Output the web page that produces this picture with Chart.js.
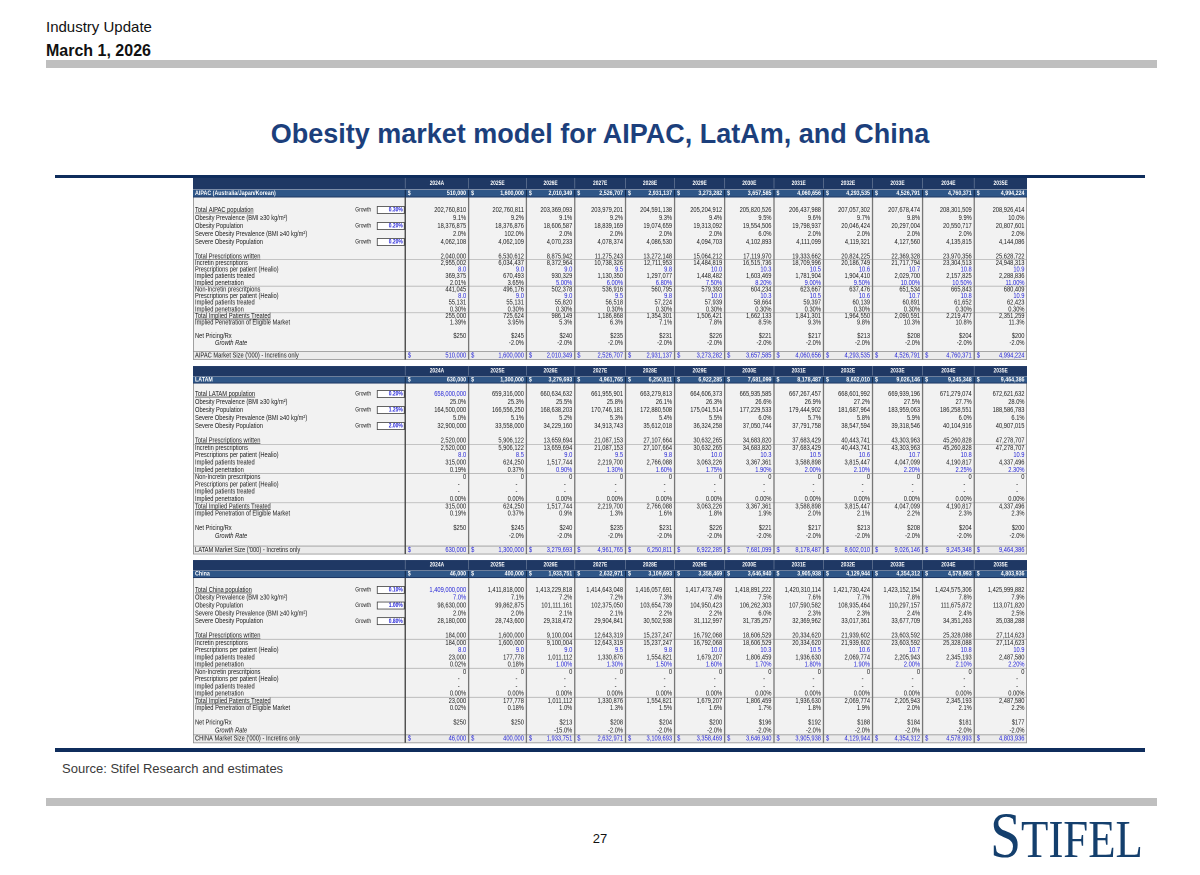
<!DOCTYPE html>
<html>
<head>
<meta charset="utf-8">
<title>Obesity market model for AIPAC, LatAm, and China</title>
<script src="https://cdn.jsdelivr.net/npm/chart.js@4.4.1/dist/chart.umd.min.js"></script>
<style>
  body { margin: 0; background: #fff; font-family: Arial, "Liberation Sans", sans-serif; }
  #page { position: relative; width: 1200px; height: 875px; overflow: hidden; background: #fff; }
  .abs { position: absolute; white-space: nowrap; }
  .bar { position: absolute; background: #bfbfbf; }
  .rule { position: absolute; background: #0f2d5c; }
  #tableBox { position: absolute; left: 193px; top: 178px; width: 834px; height: 567px; }
  #tableBox canvas { display: block; }
  #logo { left: 990px; top: 803px; font-family: "Liberation Serif", "DejaVu Serif", serif; color: #143f6d;
          font-size: 65px; line-height: 65px; transform: scaleX(0.86); transform-origin: left top; }
  #logo span { font-size: 52px; }
</style>
</head>
<body>
<div id="page">
  <div class="abs" style="left:46px;top:19px;font-size:15px;line-height:15px;color:#111">Industry Update</div>
  <div class="abs" style="left:46px;top:43px;font-size:16px;line-height:16px;font-weight:bold;color:#111">March 1, 2026</div>
  <div class="bar" style="left:46px;top:60px;width:1111px;height:8px"></div>

  <div class="abs" style="left:0;width:1200px;top:119px;text-align:center;font-size:27px;line-height:30px;font-weight:bold;color:#1c3f7c">Obesity market model for AIPAC, LatAm, and China</div>

  <div class="rule" style="left:55px;top:175px;width:1090px;height:3px"></div>
  <div id="tableBox"><canvas id="modelTable" width="834" height="567"></canvas></div>
  <div class="rule" style="left:55px;top:748px;width:1090px;height:4px"></div>

  <div class="abs" style="left:62px;top:762px;font-size:13px;line-height:13px;color:#3a3a3a">Source: Stifel Research and estimates</div>
  <div class="bar" style="left:46px;top:798px;width:1111px;height:8px"></div>
  <div class="abs" style="left:0;width:1200px;top:832px;text-align:center;font-size:13px;line-height:13px;color:#111">27</div>
  <div class="abs" id="logo">S<span>TIFEL</span></div>
</div>

<script>
// COLUMNS
const years = ["2024A", "2025E", "2026E", "2027E", "2028E", "2029E", "2030E", "2031E", "2032E", "2033E", "2034E", "2035E"];

// AIPAC
const aipacMarket = [510000, 1600000, 2010349, 2526707, 2931137, 3273282, 3657585, 4060656, 4293535, 4526791, 4760371, 4994224];
const aipacGrowthInputs = [0.30, 0.20, 0.20];
const aipacPopulation = [202760810, 202760811, 203369093, 203979201, 204591138, 205204912, 205820526, 206437988, 207057302, 207678474, 208301509, 208926414];
const aipacObesityPrev = [9.1, 9.2, 9.1, 9.2, 9.3, 9.4, 9.5, 9.6, 9.7, 9.8, 9.9, 10.0];
const aipacObesityPop = [18376875, 18376876, 18606587, 18839169, 19074659, 19313092, 19554506, 19798937, 20046424, 20297004, 20550717, 20807601];
const aipacSeverePrev = [2.0, 102.0, 2.0, 2.0, 2.0, 2.0, 6.0, 2.0, 2.0, 2.0, 2.0, 2.0];
const aipacSeverePop = [4062108, 4062109, 4070233, 4078374, 4086530, 4094703, 4102893, 4111099, 4119321, 4127560, 4135815, 4144086];
const aipacTotalRx = [2040000, 6530612, 8875942, 11275243, 13272148, 15064212, 17119970, 19333662, 20824225, 22369328, 23970356, 25628722];
const aipacIncretinRx = [2955002, 6034437, 8372964, 10738326, 12711953, 14484819, 16515736, 18709996, 20186749, 21717794, 23304513, 24948313];
const aipacRxPerPatient = [8.0, 9.0, 9.0, 9.5, 9.8, 10.0, 10.3, 10.5, 10.6, 10.7, 10.8, 10.9];
const aipacIncretinPatients = [369375, 670493, 930329, 1130350, 1297077, 1448482, 1603469, 1781904, 1904410, 2029700, 2157825, 2288836];
const aipacIncretinPen = [2.01, 3.65, 5.00, 6.00, 6.80, 7.50, 8.20, 9.00, 9.50, 10.00, 10.50, 11.00];
const aipacNonIncretinRx = [441045, 496176, 502378, 536916, 560795, 579393, 604234, 623667, 637476, 651534, 665843, 680409];
const aipacNonIncretinRxPerPatient = [8.0, 9.0, 9.0, 9.5, 9.8, 10.0, 10.3, 10.5, 10.6, 10.7, 10.8, 10.9];
const aipacNonIncretinPatients = [55131, 55131, 55820, 56518, 57224, 57939, 58664, 59397, 60139, 60891, 61652, 62423];
const aipacNonIncretinPen = [0.30, 0.30, 0.30, 0.30, 0.30, 0.30, 0.30, 0.30, 0.30, 0.30, 0.30, 0.30];
const aipacTotalPatients = [255000, 725624, 986149, 1186868, 1354301, 1506421, 1662133, 1841301, 1964550, 2090591, 2219477, 2351259];
const aipacEligiblePen = [1.39, 3.95, 5.3, 6.3, 7.1, 7.8, 8.5, 9.3, 9.8, 10.3, 10.8, 11.3];
const aipacPrice = [250, 245, 240, 235, 231, 226, 221, 217, 213, 208, 204, 200];
const aipacPriceGrowth = [null, -2.0, -2.0, -2.0, -2.0, -2.0, -2.0, -2.0, -2.0, -2.0, -2.0, -2.0];

// LATAM
const latamMarket = [630000, 1300000, 3279693, 4961765, 6250811, 6922285, 7681099, 8178487, 8602010, 9026146, 9245348, 9464386];
const latamGrowthInputs = [0.20, 1.25, 2.00];
const latamPopulation = [658000000, 659316000, 660634632, 661955901, 663279813, 664606373, 665935585, 667267457, 668601992, 669939196, 671279074, 672621632];
const latamObesityPrev = [25.0, 25.3, 25.5, 25.8, 26.1, 26.3, 26.6, 26.9, 27.2, 27.5, 27.7, 28.0];
const latamObesityPop = [164500000, 166556250, 168638203, 170746181, 172880508, 175041514, 177229533, 179444902, 181687964, 183959063, 186258551, 188586783];
const latamSeverePrev = [5.0, 5.1, 5.2, 5.3, 5.4, 5.5, 6.0, 5.7, 5.8, 5.9, 6.0, 6.1];
const latamSeverePop = [32900000, 33558000, 34229160, 34913743, 35612018, 36324258, 37050744, 37791758, 38547594, 39318546, 40104916, 40907015];
const latamTotalRx = [2520000, 5906122, 13659694, 21087153, 27107664, 30632265, 34683820, 37683429, 40443741, 43303963, 45260828, 47278707];
const latamIncretinRx = [2520000, 5906122, 13659694, 21087153, 27107664, 30632265, 34683820, 37683429, 40443741, 43303963, 45260828, 47278707];
const latamRxPerPatient = [8.0, 8.5, 9.0, 9.5, 9.8, 10.0, 10.3, 10.5, 10.6, 10.7, 10.8, 10.9];
const latamIncretinPatients = [315000, 624250, 1517744, 2219700, 2766088, 3063226, 3367361, 3588898, 3815447, 4047099, 4190817, 4337496];
const latamIncretinPen = [0.19, 0.37, 0.90, 1.30, 1.60, 1.75, 1.90, 2.00, 2.10, 2.20, 2.25, 2.30];
const latamNonIncretinRx = [0, 0, 0, 0, 0, 0, 0, 0, 0, 0, 0, 0];
const latamNonIncretinRxPerPatient = [null, null, null, null, null, null, null, null, null, null, null, null];
const latamNonIncretinPatients = [null, null, null, null, null, null, null, null, null, null, null, null];
const latamNonIncretinPen = [0, 0, 0, 0, 0, 0, 0, 0, 0, 0, 0, 0];
const latamTotalPatients = [315000, 624250, 1517744, 2219700, 2766088, 3063226, 3367361, 3588898, 3815447, 4047099, 4190817, 4337496];
const latamEligiblePen = [0.19, 0.37, 0.9, 1.3, 1.6, 1.8, 1.9, 2.0, 2.1, 2.2, 2.3, 2.3];
const latamPrice = [250, 245, 240, 235, 231, 226, 221, 217, 213, 208, 204, 200];
const latamPriceGrowth = [null, -2.0, -2.0, -2.0, -2.0, -2.0, -2.0, -2.0, -2.0, -2.0, -2.0, -2.0];

// CHINA
const chinaMarket = [46000, 400000, 1933751, 2632971, 3109693, 3358469, 3646940, 3905938, 4129944, 4354312, 4578993, 4803936];
const chinaGrowthInputs = [0.10, 1.00, 0.80];
const chinaPopulation = [1409000000, 1411818000, 1413229818, 1414643048, 1416057691, 1417473749, 1418891222, 1420310114, 1421730424, 1423152154, 1424575306, 1425999882];
const chinaObesityPrev = [7.0, 7.1, 7.2, 7.2, 7.3, 7.4, 7.5, 7.6, 7.7, 7.8, 7.8, 7.9];
const chinaObesityPop = [98630000, 99862875, 101111161, 102375050, 103654739, 104950423, 106262303, 107590582, 108935464, 110297157, 111675872, 113071820];
const chinaSeverePrev = [2.0, 2.0, 2.1, 2.1, 2.2, 2.2, 6.0, 2.3, 2.3, 2.4, 2.4, 2.5];
const chinaSeverePop = [28180000, 28743600, 29318472, 29904841, 30502938, 31112997, 31735257, 32369962, 33017361, 33677709, 34351263, 35038288];
const chinaTotalRx = [184000, 1600000, 9100004, 12643319, 15237247, 16792068, 18606529, 20334620, 21939602, 23603592, 25328088, 27114623];
const chinaIncretinRx = [184000, 1600000, 9100004, 12643319, 15237247, 16792068, 18606529, 20334620, 21939602, 23603592, 25328088, 27114623];
const chinaRxPerPatient = [8.0, 9.0, 9.0, 9.5, 9.8, 10.0, 10.3, 10.5, 10.6, 10.7, 10.8, 10.9];
const chinaIncretinPatients = [23000, 177778, 1011112, 1330876, 1554821, 1679207, 1806459, 1936630, 2069774, 2205943, 2345193, 2487580];
const chinaIncretinPen = [0.02, 0.18, 1.00, 1.30, 1.50, 1.60, 1.70, 1.80, 1.90, 2.00, 2.10, 2.20];
const chinaNonIncretinRx = [0, 0, 0, 0, 0, 0, 0, 0, 0, 0, 0, 0];
const chinaNonIncretinRxPerPatient = [null, null, null, null, null, null, null, null, null, null, null, null];
const chinaNonIncretinPatients = [null, null, null, null, null, null, null, null, null, null, null, null];
const chinaNonIncretinPen = [0, 0, 0, 0, 0, 0, 0, 0, 0, 0, 0, 0];
const chinaTotalPatients = [23000, 177778, 1011112, 1330876, 1554821, 1679207, 1806459, 1936630, 2069774, 2205943, 2345193, 2487580];
const chinaEligiblePen = [0.02, 0.18, 1.0, 1.3, 1.5, 1.6, 1.7, 1.8, 1.9, 2.0, 2.1, 2.2];
const chinaPrice = [250, 250, 213, 208, 204, 200, 196, 192, 188, 184, 181, 177];
const chinaPriceGrowth = [null, null, -15.0, -2.0, -2.0, -2.0, -2.0, -2.0, -2.0, -2.0, -2.0, -2.0];

// REGION TABLE (built from the arrays above)
const regions = [
    { name: "AIPAC (Australia/Japan/Korean)", popLabel: "Total AIPAC population", marketLabel: "AIPAC Market Size ('000) - Incretins only",
      market: aipacMarket, growth: aipacGrowthInputs, population: aipacPopulation, obesityPrev: aipacObesityPrev, obesityPop: aipacObesityPop,
      severePrev: aipacSeverePrev, severePop: aipacSeverePop, totalRx: aipacTotalRx, incretinRx: aipacIncretinRx, rxPerPatient: aipacRxPerPatient,
      incretinPatients: aipacIncretinPatients, incretinPen: aipacIncretinPen, nonIncretinRx: aipacNonIncretinRx, nonIncretinRxPerPatient: aipacNonIncretinRxPerPatient,
      nonIncretinPatients: aipacNonIncretinPatients, nonIncretinPen: aipacNonIncretinPen, totalPatients: aipacTotalPatients, eligiblePen: aipacEligiblePen,
      price: aipacPrice, priceGrowth: aipacPriceGrowth, popBlue: null, prevBlue: null, nonIncretinBlue: [0, 12] },
    { name: "LATAM", popLabel: "Total LATAM population", marketLabel: "LATAM Market Size ('000) - Incretins only",
      market: latamMarket, growth: latamGrowthInputs, population: latamPopulation, obesityPrev: latamObesityPrev, obesityPop: latamObesityPop,
      severePrev: latamSeverePrev, severePop: latamSeverePop, totalRx: latamTotalRx, incretinRx: latamIncretinRx, rxPerPatient: latamRxPerPatient,
      incretinPatients: latamIncretinPatients, incretinPen: latamIncretinPen, nonIncretinRx: latamNonIncretinRx, nonIncretinRxPerPatient: latamNonIncretinRxPerPatient,
      nonIncretinPatients: latamNonIncretinPatients, nonIncretinPen: latamNonIncretinPen, totalPatients: latamTotalPatients, eligiblePen: latamEligiblePen,
      price: latamPrice, priceGrowth: latamPriceGrowth, popBlue: [0, 1], prevBlue: null, nonIncretinBlue: null },
    { name: "China", popLabel: "Total China population", marketLabel: "CHINA Market Size ('000) - Incretins only",
      market: chinaMarket, growth: chinaGrowthInputs, population: chinaPopulation, obesityPrev: chinaObesityPrev, obesityPop: chinaObesityPop,
      severePrev: chinaSeverePrev, severePop: chinaSeverePop, totalRx: chinaTotalRx, incretinRx: chinaIncretinRx, rxPerPatient: chinaRxPerPatient,
      incretinPatients: chinaIncretinPatients, incretinPen: chinaIncretinPen, nonIncretinRx: chinaNonIncretinRx, nonIncretinRxPerPatient: chinaNonIncretinRxPerPatient,
      nonIncretinPatients: chinaNonIncretinPatients, nonIncretinPen: chinaNonIncretinPen, totalPatients: chinaTotalPatients, eligiblePen: chinaEligiblePen,
      price: chinaPrice, priceGrowth: chinaPriceGrowth, popBlue: [0, 1], prevBlue: [0, 1], nonIncretinBlue: null }
];

// LAYOUT (x units = label column + year column widths, y units = row heights)
const LABEL_WIDTH = 212;
const COL_WIDTHS = [63.3, 57.7, 48.3, 50.7, 49, 50, 49.3, 49.4, 49, 50, 51.6, 52.7];
const COL_STARTS = COL_WIDTHS.map((w, i) => COL_WIDTHS.slice(0, i).reduce((a, b) => a + b, 0));
const TABLE_WIDTH = COL_WIDTHS.reduce((a, b) => a + b, 0);
const TABLE_UNITS = 567;
const panelLayout = [
    { head: 10.5, region: 9, gap1: 8.5, pop: 8, gap2: 7, body: 6.64, gap3: 6.5, price: 7, gap4: 5, market: 8, after: 6.5 },
    { head: 9.5, region: 8, gap1: 6.5, pop: 8, gap2: 7, body: 7.3, gap3: 6.7, price: 8, gap4: 6, market: 8, after: 6 },
    { head: 9.5, region: 8.5, gap1: 8, pop: 7.8, gap2: 7, body: 7.25, gap3: 7, price: 8, gap4: 0, market: 8, after: 0 }
];

// COLOURS
const NAVY = "#1f3864";
const REGION_BLUE = "#2f5687";
const BODY_BG = "#f2f2f2";
const MARKET_BG = "#ebebeb";
const INPUT_BLUE = "#2727d8";
const TEXT = "#222222";

function buildRows() {
    const rows = [];
    const panels = [];
    let cursor = 0;
    const add = (h, r) => { rows.push(Object.assign({ y0: cursor, y1: cursor + h }, r)); cursor += h; };

    regions.forEach((g, p) => {
        const L = panelLayout[p];
        const pn = { top: cursor };
        add(L.head, { kind: "head" });
        add(L.region, { kind: "region", label: g.name, values: g.market });
        pn.bodyTop = cursor;
        add(L.gap1, { kind: "gap" });
        add(L.pop, { kind: "data", label: g.popLabel, values: g.population, fmt: "int", underline: true, growth: g.growth[0], blue: g.popBlue });
        add(L.pop, { kind: "data", label: "Obesity Prevalence (BMI \u226530 kg/m\u00b2)", values: g.obesityPrev, fmt: "pct1", blue: g.prevBlue });
        add(L.pop, { kind: "data", label: "Obesity Population", values: g.obesityPop, fmt: "int", growth: g.growth[1] });
        add(L.pop, { kind: "data", label: "Severe Obesity Prevalence (BMI \u226540 kg/m\u00b2)", values: g.severePrev, fmt: "pct1" });
        add(L.pop, { kind: "data", label: "Severe Obesity Population", values: g.severePop, fmt: "int", growth: g.growth[2] });
        add(L.gap2, { kind: "gap" });
        add(L.body, { kind: "data", label: "Total Prescriptions written", values: g.totalRx, fmt: "int", underline: true });
        add(L.body, { kind: "data", label: "Incretin prescriptions", values: g.incretinRx, fmt: "int", sepAbove: true });
        add(L.body, { kind: "data", label: "Prescriptions per patient (Healio)", values: g.rxPerPatient, fmt: "dec1", blue: [0, 12] });
        add(L.body, { kind: "data", label: "Implied patients treated", values: g.incretinPatients, fmt: "int" });
        add(L.body, { kind: "data", label: "Implied penetration", values: g.incretinPen, fmt: "pct2", blue: [2, 12] });
        add(L.body, { kind: "data", label: "Non-Incretin prescritpions", values: g.nonIncretinRx, fmt: "int", sepAbove: true });
        add(L.body, { kind: "data", label: "Prescriptions per patient (Healio)", values: g.nonIncretinRxPerPatient, fmt: "dec1", blue: g.nonIncretinBlue });
        add(L.body, { kind: "data", label: "Implied patients treated", values: g.nonIncretinPatients, fmt: "int" });
        add(L.body, { kind: "data", label: "Implied penetration", values: g.nonIncretinPen, fmt: "pct2" });
        add(L.body, { kind: "data", label: "Total Implied Patients Treated", values: g.totalPatients, fmt: "int", underline: true, sepAbove: true });
        add(L.body, { kind: "data", label: "Implied Penetration of Eligible Market", values: g.eligiblePen, fmt: "pctMix" });
        add(L.gap3, { kind: "gap" });
        add(L.price, { kind: "data", label: "Net Pricing/Rx", values: g.price, fmt: "usd" });
        add(L.price, { kind: "data", label: "Growth Rate", values: g.priceGrowth, fmt: "pct1", italic: true, nullText: "" });
        if (L.gap4) add(L.gap4, { kind: "gap" });
        pn.bodyBottom = cursor;
        add(L.market, { kind: "market", label: g.marketLabel, values: g.market });
        pn.bottom = cursor;
        cursor += L.after;
        panels.push(pn);
    });
    return { rows, panels, height: cursor };
}

const table = buildRows();

// FORMATTING
function withCommas(n) {
    return String(Math.round(Math.abs(n))).replace(/\B(?=(\d{3})+(?!\d))/g, ",");
}

function formatCell(fmt, v, i) {
    if (v === null) return null;
    switch (fmt) {
        case "int": return (v < 0 ? "-" : "") + withCommas(v);
        case "pct1": return v.toFixed(1) + "%";
        case "pct2": return v.toFixed(2) + "%";
        case "pctMix": return v.toFixed(i < 2 ? 2 : 1) + "%";
        case "dec1": return v.toFixed(1);
        case "usd": return "$" + withCommas(v);
        default: return String(v);
    }
}

function isBlue(range, i) {
    return !!range && i >= range[0] && i < range[1];
}

// condensed text helper (Calibri-like width)
function drawText(ctx, str, x, y, o) {
    const size = o.size || 7;
    const squeeze = o.squeeze || 0.82;
    ctx.save();
    ctx.translate(x, y);
    ctx.scale(squeeze, 1);
    ctx.font = (o.style || "normal") + " " + (o.weight || "normal") + " " + size + "px 'Liberation Sans', Arial, sans-serif";
    ctx.fillStyle = o.color || TEXT;
    ctx.textAlign = o.align || "left";
    ctx.textBaseline = "middle";
    ctx.fillText(str, 0, 0);
    const w = ctx.measureText(str).width * squeeze;
    ctx.restore();
    return w;
}

function hLine(ctx, x0, x1, yy, color, width) {
    ctx.strokeStyle = color;
    ctx.lineWidth = width;
    ctx.beginPath();
    ctx.moveTo(x0, yy);
    ctx.lineTo(x1, yy);
    ctx.stroke();
}

function vLine(ctx, xx, y0, y1, color, width) {
    ctx.strokeStyle = color;
    ctx.lineWidth = width;
    ctx.beginPath();
    ctx.moveTo(xx, y0);
    ctx.lineTo(xx, y1);
    ctx.stroke();
}

// 📋 TABLE PLUGIN - every cell placed through the chart's x / y scales
const modelTablePlugin = {
    id: "modelTable",
    afterDraw(chart) {
        const { ctx, scales: { x, y } } = chart;
        const left = x.getPixelForValue(-LABEL_WIDTH);
        const right = x.getPixelForValue(TABLE_WIDTH);
        const labelRight = x.getPixelForValue(0);
        const colL = i => x.getPixelForValue(COL_STARTS[i]);
        const colR = i => x.getPixelForValue(COL_STARTS[i] + COL_WIDTHS[i]);
        const mid = r => (y.getPixelForValue(r.y0) + y.getPixelForValue(r.y1)) / 2;

        ctx.save();

        // panel backgrounds
        table.panels.forEach(pn => {
            const t = y.getPixelForValue(pn.bodyTop);
            const b = y.getPixelForValue(pn.bodyBottom);
            ctx.fillStyle = BODY_BG;
            ctx.fillRect(left, t, right - left, b - t);
        });

        table.rows.forEach((row, idx) => {
            const top = y.getPixelForValue(row.y0);
            const bot = y.getPixelForValue(row.y1);
            const cy = mid(row);

            if (row.kind === "head") {
                const next = table.rows[idx + 1];
                const nb = y.getPixelForValue(next.y1);
                ctx.fillStyle = NAVY;
                ctx.fillRect(left, top, right - left, nb - top);
                years.forEach((yr, i) => {
                    drawText(ctx, yr, (colL(i) + colR(i)) / 2, cy, { size: 6, weight: "bold", color: "#ffffff", align: "center" });
                });
                vLine(ctx, labelRight, top, bot, "rgba(255,255,255,0.3)", 0.8);
                for (let i = 1; i < years.length; i++) vLine(ctx, colL(i), top, bot, "rgba(255,255,255,0.3)", 0.8);
            }

            if (row.kind === "region") {
                ctx.fillStyle = REGION_BLUE;
                ctx.fillRect(left, top + 1.3, right - left, bot - top - 2.3);
                hLine(ctx, left, right, top + 0.9, "rgba(255,255,255,0.55)", 0.7);
                drawText(ctx, row.label, left + 2, cy, { size: 6.5, weight: "bold", color: "#ffffff" });
                row.values.forEach((v, i) => {
                    drawText(ctx, "$", colL(i) + 2.5, cy, { size: 6.5, weight: "bold", color: "#ffffff" });
                    drawText(ctx, formatCell("int", v, i), colR(i) - 2.5, cy, { size: 6.5, weight: "bold", color: "#ffffff", align: "right" });
                });
                vLine(ctx, labelRight, top + 1.3, bot - 1, "#12284a", 1);
                for (let i = 1; i < years.length; i++) vLine(ctx, colL(i), top + 1.3, bot - 1, "#12284a", 1);
            }

            if (row.kind === "data") {
                if (row.sepAbove) hLine(ctx, left, right, top, "#b5b5b5", 0.8);
                const lx = left + (row.italic ? 22 : 2);
                const w = drawText(ctx, row.label, lx, cy, { size: 7, style: row.italic ? "italic" : "normal" });
                if (row.underline) hLine(ctx, lx, lx + w, cy + 3, TEXT, 0.6);

                if (row.growth !== undefined) {
                    drawText(ctx, "Growth", labelRight - 50, cy, { size: 6 });
                    const bx = labelRight - 28, bw = 27, bh = Math.min(7, bot - top - 0.6);
                    ctx.fillStyle = "#ffffff";
                    ctx.fillRect(bx, cy - bh / 2, bw, bh);
                    ctx.strokeStyle = "#404040";
                    ctx.lineWidth = 0.8;
                    ctx.strokeRect(bx, cy - bh / 2, bw, bh);
                    drawText(ctx, row.growth.toFixed(2) + "%", bx + bw - 1.5, cy, { size: 6, weight: "bold", color: INPUT_BLUE, align: "right" });
                }

                row.values.forEach((v, i) => {
                    const txt = formatCell(row.fmt, v, i);
                    const color = isBlue(row.blue, i) ? INPUT_BLUE : TEXT;
                    if (txt === null) {
                        const nt = row.nullText !== undefined ? row.nullText : "-";
                        if (nt) drawText(ctx, nt, colR(i) - 9, cy, { size: 7, color, align: "right" });
                    } else {
                        drawText(ctx, txt, colR(i) - 2.5, cy, { size: 7, color, align: "right" });
                    }
                });
            }

            if (row.kind === "market") {
                ctx.fillStyle = MARKET_BG;
                ctx.fillRect(left, top, right - left, bot - top);
                hLine(ctx, left, right, top, "#9a9a9a", 0.8);
                hLine(ctx, left, right, bot, "#9a9a9a", 0.8);
                drawText(ctx, row.label, left + 2, cy, { size: 7 });
                row.values.forEach((v, i) => {
                    drawText(ctx, "$", colL(i) + 2.5, cy, { size: 7, color: INPUT_BLUE });
                    drawText(ctx, formatCell("int", v, i), colR(i) - 2.5, cy, { size: 7, color: INPUT_BLUE, align: "right" });
                });
            }
        });

        // column borders through the body of each panel
        table.panels.forEach(pn => {
            const t = y.getPixelForValue(pn.bodyTop);
            const b = y.getPixelForValue(pn.bottom);
            vLine(ctx, left + 0.4, t, b, "#8c8c8c", 0.8);
            vLine(ctx, right - 0.4, t, b, "#8c8c8c", 0.8);
            vLine(ctx, labelRight, t, b, "#4a4a4a", 1.4);
            for (let i = 1; i < years.length; i++) vLine(ctx, colL(i), t, b, "#777777", 1.3);
        });

        ctx.restore();
    }
};

// 📊 CHART
new Chart(document.getElementById("modelTable"), {
    type: "scatter",
    data: { datasets: [] },
    options: {
        responsive: false,
        animation: false,
        devicePixelRatio: 2,
        events: [],
        layout: { padding: 0 },
        plugins: { legend: { display: false }, tooltip: { enabled: false } },
        scales: {
            x: { type: "linear", bounds: "data", min: -LABEL_WIDTH, max: TABLE_WIDTH, display: false },
            y: { type: "linear", bounds: "data", min: 0, max: TABLE_UNITS, reverse: true, display: false }
        }
    },
    plugins: [modelTablePlugin]
});
</script>
</body>
</html>
